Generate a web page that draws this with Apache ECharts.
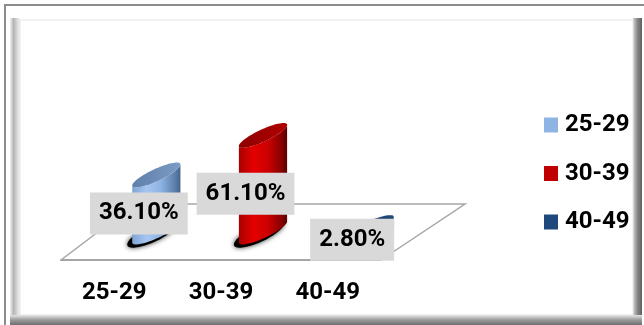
<!DOCTYPE html>
<html>
<head>
<meta charset="utf-8">
<script src="https://cdn.jsdelivr.net/npm/echarts@6/dist/echarts.min.js"></script>
<style>
html,body{margin:0;padding:0;background:#fff;}
#chart{width:644px;height:325px;}
</style>
</head>
<body>
<div id="chart"></div>
<script>
const categories = ['25-29', '30-39', '40-49'];
const values = [36.1, 61.1, 2.8];
const valueLabels = ['36.10%', '61.10%', '2.80%'];
const legendColors = ['#8eb4e3', '#c00000', '#1f497d'];
const bodyStops = [
  ['#7ea4d6', '#a6c6f0', '#8db3e2', '#5d7fab', '#46648c'],
  ['#a80000', '#e40000', '#cc0000', '#880000', '#5a0000'],
  ['#183c68', '#2d5c96', '#1f497d', '#142f52', '#0e2240']
];
const topStops = [
  ['#5f80ab', '#7c9bc5'],
  ['#8e0000', '#b00000'],
  ['#14335a', '#23497a']
];

const FONT = 'Roboto, "Open Sans", sans-serif';
const FSIZE = 24;
const DEPTH_DX = 42, DEPTH_DY = -28;
const THETA = 25 * Math.PI / 180;

function ellipsePt(cx, cy, a, b, t) {
  return [
    cx + a * Math.cos(t) * Math.cos(THETA) + b * Math.sin(t) * Math.sin(THETA),
    cy - a * Math.cos(t) * Math.sin(THETA) + b * Math.sin(t) * Math.cos(THETA)
  ];
}
function arc(cx, cy, a, b, t0, t1, n) {
  const pts = [];
  for (let i = 0; i <= n; i++) pts.push(ellipsePt(cx, cy, a, b, t0 + (t1 - t0) * i / n));
  return pts;
}

function makeRender(i) {
  return function (params, api) {
    const idx = api.value(0), val = api.value(1);
    const base = api.coord([idx, 0]);
    const top = api.coord([idx, val]);
    const bw = api.size([1, 0])[0];
    const cx = base[0] + DEPTH_DX;
    const by = base[1] + DEPTH_DY;
    const ty = top[1] + DEPTH_DY;
    const R = bw * 0.226;
    const b = R * 0.25;
    const a = Math.sqrt((R * R - b * b * Math.sin(THETA) ** 2) / (Math.cos(THETA) ** 2));
    const t0 = Math.atan2(b * Math.sin(THETA), a * Math.cos(THETA));
    const lowerBase = arc(cx, by, a, b, t0, t0 + Math.PI, 40);
    const lowerTop = arc(cx, ty, a, b, t0 + Math.PI, t0, 40);
    const body = lowerBase.concat(lowerTop);
    const topFull = arc(cx, ty, a, b, 0, Math.PI * 2, 72);
    const shadow = arc(cx - 4, by + 2, a + 1, b + 2, 0, Math.PI * 2, 72);
    const s = bodyStops[i], tp = topStops[i];
    const children = [
      {
        type: 'polygon', shape: { points: shadow },
        style: { fill: '#000', shadowBlur: 5, shadowColor: 'rgba(0,0,0,0.8)' }, z2: 1
      },
      {
        type: 'polygon', shape: { points: body },
        style: {
          fill: new echarts.graphic.LinearGradient(0, 0, 1, 0, [
            { offset: 0, color: s[0] }, { offset: 0.3, color: s[1] },
            { offset: 0.6, color: s[2] }, { offset: 0.88, color: s[3] }, { offset: 1, color: s[4] }
          ])
        }, z2: 2
      },
      {
        type: 'polygon', shape: { points: topFull },
        style: {
          fill: new echarts.graphic.LinearGradient(0, 0, 1, 0, [
            { offset: 0, color: tp[0] }, { offset: 1, color: tp[1] }
          ])
        }, z2: 3
      },
      {
        type: 'text', z2: 10,
        style: {
          text: valueLabels[i],
          x: cx - 17.5, y: (ty + by) / 2 + 10,
          align: 'center', verticalAlign: 'middle',
          fontFamily: FONT, fontWeight: 'bold', fontSize: FSIZE, lineHeight: 24,
          fill: '#000', backgroundColor: '#d9d9d9', padding: [9, 9]
        }
      }
    ];
    return { type: 'group', children: children };
  };
}

function renderFloor(params, api) {
  const c0 = api.coord([0, 0]);
  const c2 = api.coord([categories.length - 1, 0]);
  const bw = api.size([1, 0])[0];
  const left = c0[0] - bw / 2, right = c2[0] + bw / 2, y = c0[1];
  return {
    type: 'polyline',
    shape: { points: [[left, y], [left + 74, y - 56], [right + 84, y - 56], [right, y]] },
    style: { stroke: '#a6a6a6', lineWidth: 1.5, fill: null }
  };
}

const chart = echarts.init(document.getElementById('chart'), null, { renderer: 'canvas' });

const series = [{
  type: 'custom', name: 'floor', data: [[0, 0]], renderItem: renderFloor, silent: true, z: 1
}];
categories.forEach(function (c, i) {
  series.push({
    type: 'custom', name: c,
    data: [[i, values[i]]],
    itemStyle: { color: legendColors[i] },
    renderItem: makeRender(i),
    z: 2 + i
  });
});

chart.setOption({
  animation: false,
  backgroundColor: '#fff',
  graphic: [
    { type: 'rect', shape: { x: 5, y: 5, width: 660, height: 340 }, style: { fill: null, stroke: '#8c8c8c', lineWidth: 2 }, z: -10, silent: true },
    { type: 'rect', shape: { x: 10, y: 18, width: 10, height: 298 }, style: { fill: new echarts.graphic.LinearGradient(0, 0, 1, 0, [{ offset: 0, color: '#f2f2f2' }, { offset: 0.35, color: '#b4b4b4' }, { offset: 1, color: '#f4f4f4' }]) }, z: -9, silent: true },
    { type: 'rect', shape: { x: 633, y: 18, width: 9, height: 307 }, style: { fill: new echarts.graphic.LinearGradient(0, 0, 1, 0, [{ offset: 0, color: '#d0d0d0' }, { offset: 0.5, color: '#888' }, { offset: 1, color: '#5e5e5e' }]) }, z: -9, silent: true },
    { type: 'rect', shape: { x: 10, y: 315, width: 632, height: 10 }, style: { fill: new echarts.graphic.LinearGradient(0, 0, 0, 1, [{ offset: 0, color: '#e6e6e6' }, { offset: 0.5, color: '#9a9a9a' }, { offset: 1, color: '#6e6e6e' }]) }, z: -9, silent: true },
    { type: 'rect', shape: { x: 20, y: 20, width: 613, height: 295 }, style: { fill: '#fff', stroke: '#e4e4e4', lineWidth: 1 }, z: -8, silent: true }
  ],
  legend: {
    data: categories,
    orient: 'vertical',
    left: 539, top: 108,
    itemWidth: 14, itemHeight: 15, itemGap: 24.5,
    icon: 'rect',
    textStyle: { fontFamily: FONT, fontWeight: 'bold', fontSize: FSIZE, lineHeight: 23, color: '#000', padding: [0, 0, 0, 2] }
  },
  grid: { left: 61, width: 320, top: 102, height: 158 },
  xAxis: {
    type: 'category', data: categories,
    axisLine: { lineStyle: { color: '#a6a6a6', width: 2 } },
    axisTick: { length: 8, lineStyle: { color: '#a6a6a6', width: 1.5 } },
    axisLabel: { fontFamily: FONT, fontWeight: 'bold', fontSize: FSIZE, color: '#000', margin: 21 },
    splitLine: { show: false }
  },
  yAxis: { type: 'value', min: 0, max: 100, show: false },
  series: series
});
</script>
</body>
</html>
